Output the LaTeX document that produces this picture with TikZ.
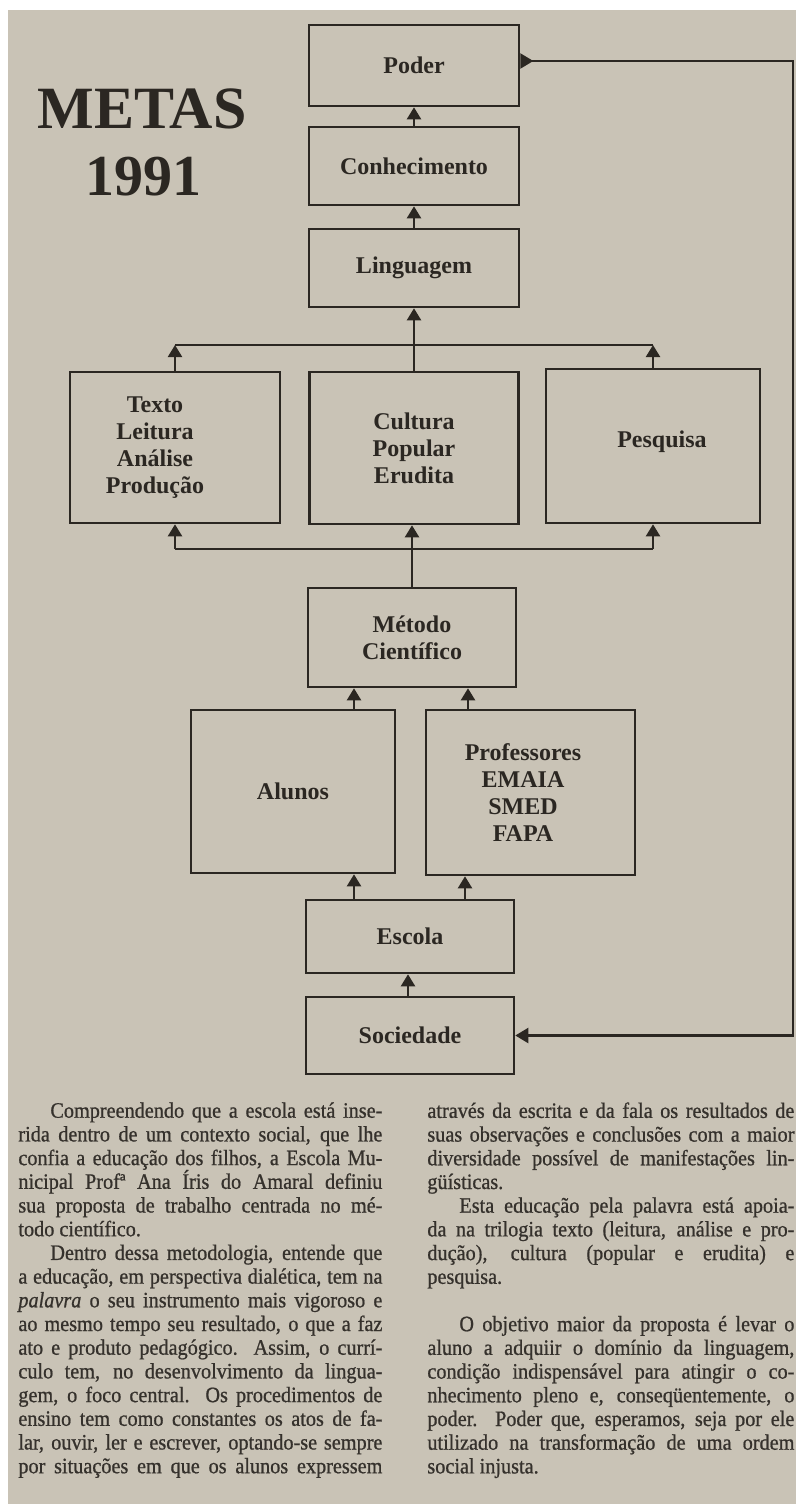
\documentclass[tikz,border=0pt]{standalone}
\usepackage{fontspec}
\setmainfont{Liberation Serif}
\newfontfamily\bodyfont{Liberation Serif}[FakeBold=0.8,FakeStretch=0.92]
\usetikzlibrary{arrows.meta}
\definecolor{paper}{HTML}{C9C3B6}
\definecolor{ink}{HTML}{2B2722}
\definecolor{bodyink}{HTML}{35312C}
\newlength\colw
\newcommand\jl[1]{\hbox to \colw{#1}}
\newcommand\fl[1]{\hbox{#1}}
\begin{document}
\begin{tikzpicture}[x=0.5pt,y=-0.5pt,
  box/.style={draw=ink,line width=1.3pt,inner sep=0pt,text=ink,align=center,
    font=\fontsize{12}{13.5}\selectfont\bfseries},
  lbl/.style={text=ink,align=center,inner sep=0pt,
    font=\fontsize{12}{13.5}\selectfont\bfseries},
  wire/.style={draw=ink,line width=1.1pt},
  arr/.style={wire,-{Triangle[length=6pt,width=7pt]}},
  titletext/.style={text=ink,inner sep=0pt,anchor=base},
  col/.style={text=bodyink,inner sep=0pt,anchor=north west,
    font=\bodyfont\fontsize{11}{11.85}\selectfont}]
% page
\fill[white] (0,0) rectangle (796,1504);
\useasboundingbox (0,0) rectangle (796,1504);
\fill[paper] (8,10) rectangle (796,1504);

% title
\node[titletext,font=\fontsize{30}{30}\selectfont\bfseries] (metas) at (142,128) {METAS};
\node[titletext,font=\fontsize{29}{29}\selectfont\bfseries] (ano) at (143,195) {1991};

% boxes (sizes in pt = half the pixel size)
\node[box,minimum width=105pt,minimum height=40.5pt] (poder) at (414,65.5) {Poder};
\node[box,minimum width=105pt,minimum height=39pt] (conh) at (414,166) {Conhecimento};
\node[box,minimum width=105pt,minimum height=39pt] (ling) at (414,268) {Linguagem};
\node[box,minimum width=105pt,minimum height=75.5pt] (texto) at (175,447.5) {};
\node[lbl] (textolbl) at (155,448) {Texto\\Leitura\\Análise\\Produção};
\node[box,minimum width=104.5pt,minimum height=76pt] (cultura) at (414,448) {Cultura\\Popular\\Erudita};
\node[box,minimum width=107pt,minimum height=77pt] (pesquisa) at (653,446) {};
\node[lbl] (pesquisalbl) at (662,442) {Pesquisa};
\node[box,minimum width=104pt,minimum height=49.5pt] (metodo) at (412,637.5) {Método\\Científico};
\node[box,minimum width=102pt,minimum height=81.5pt] (alunos) at (293,791.5) {Alunos};
\node[box,minimum width=104.5pt,minimum height=82.5pt] (prof) at (530.5,792.5) {};
\node[lbl] (proflbl) at (523,793) {Professores\\EMAIA\\SMED\\FAPA};
\node[box,minimum width=104pt,minimum height=36.5pt] (escola) at (410,936.5) {Escola};
\node[box,minimum width=104pt,minimum height=38.5pt] (sociedade) at (410,1035.5) {Sociedade};

% helper coordinates
\coordinate (tbl) at (175,345);
\coordinate (tbr) at (653,345);
\coordinate (bbl) at (175,549);
\coordinate (bbr) at (653,549);
\coordinate (ax) at (354,0);
\coordinate (px) at (468,0);
\coordinate (ex) at (465,0);
\coordinate (sx) at (408,0);
\coordinate (rt) at (793,61);

% connectors
\draw[arr] (conh) -- (poder);
\draw[arr] (ling) -- (conh);
\draw[arr] (cultura) -- (ling);
\draw[wire] (tbl) -- (tbr);
\draw[arr] (texto.north) -- (texto.north |- tbl);
\draw[arr] (pesquisa.north) -- (pesquisa.north |- tbr);
\draw[wire] (bbl) -- (bbr);
\draw[arr] (bbl) -- (texto.south);
\draw[arr] (bbr) -- (pesquisa.south);
\draw[arr] (metodo.north) -- (metodo.north |- cultura.south);
\draw[arr] (alunos.north -| ax) -- (metodo.south -| ax);
\draw[arr] (prof.north -| px) -- (metodo.south -| px);
\draw[arr] (escola.north -| ax) -- (alunos.south -| ax);
\draw[arr] (escola.north -| ex) -- (prof.south -| ex);
\draw[arr] (sociedade.north -| sx) -- (escola.south -| sx);
\draw[wire,{Triangle[reversed,length=6.5pt,width=7.5pt]}-{Triangle[length=6.5pt,width=7.5pt]}]
  (poder.east |- rt) -- (rt) |- (sociedade.east);

% body text
\node[col] (leftcol) at (18,1102) {\setlength\colw{182pt}\vbox{\baselineskip=11.85pt
\jl{\kern16pt Compreendendo que a escola está inse-}
\jl{rida dentro de um contexto social, que lhe}
\jl{confia a educação dos filhos, a Escola Mu-}
\jl{nicipal Profª Ana Íris do Amaral definiu}
\jl{sua proposta de trabalho centrada no mé-}
\fl{todo científico.}
\jl{\kern16pt Dentro dessa metodologia, entende que}
\jl{a educação, em perspectiva dialética, tem na}
\jl{\textit{palavra} o seu instrumento mais vigoroso e}
\jl{ao mesmo tempo seu resultado, o que a faz}
\jl{ato e produto pedagógico. Assim, o currí-}
\jl{culo tem, no desenvolvimento da lingua-}
\jl{gem, o foco central. Os procedimentos de}
\jl{ensino tem como constantes os atos de fa-}
\jl{lar, ouvir, ler e escrever, optando-se sempre}
\jl{por situações em que os alunos expressem}}};

\node[col] (rightcol) at (427,1102) {\setlength\colw{183.5pt}\vbox{\baselineskip=11.85pt
\jl{através da escrita e da fala os resultados de}
\jl{suas observações e conclusões com a maior}
\jl{diversidade possível de manifestações lin-}
\fl{güísticas.}
\jl{\kern16pt Esta educação pela palavra está apoia-}
\jl{da na trilogia texto (leitura, análise e pro-}
\jl{dução), cultura (popular e erudita) e}
\fl{pesquisa.}
\fl{}
\jl{\kern16pt O objetivo maior da proposta é levar o}
\jl{aluno a adquiir o domínio da linguagem,}
\jl{condição indispensável para atingir o co-}
\jl{nhecimento pleno e, conseqüentemente, o}
\jl{poder. Poder que, esperamos, seja por ele}
\jl{utilizado na transformação de uma ordem}
\fl{social injusta.}}};
\end{tikzpicture}
\end{document}
